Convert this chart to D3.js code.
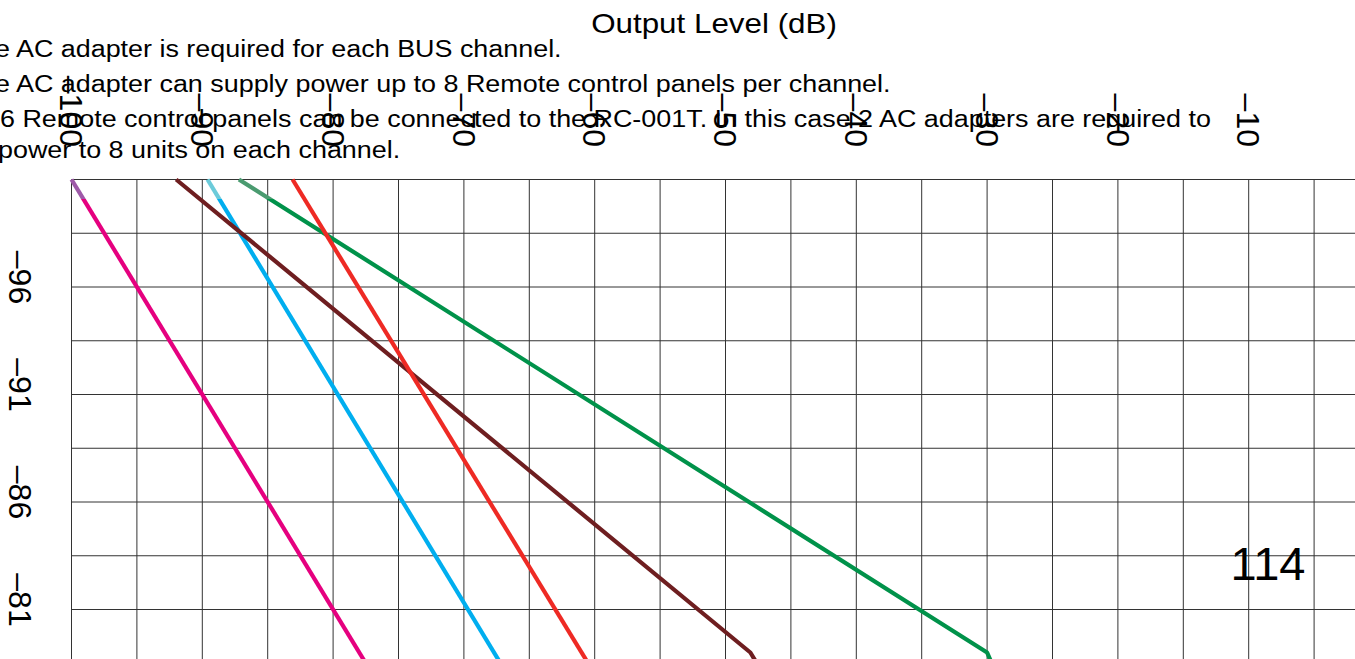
<!DOCTYPE html>
<html>
<head>
<meta charset="utf-8">
<script src="https://cdn.jsdelivr.net/npm/d3@7"></script>
<style>
  html, body { margin: 0; padding: 0; background: #ffffff; overflow: hidden; }
  svg { display: block; }
  text { font-family: "Liberation Sans", Arial, Helvetica, sans-serif; fill: #000; }
</style>
</head>
<body>
<svg id="chart" width="1355" height="659"></svg>
<script>
// ---------------- data ----------------
const xTickValues = [-100, -90, -80, -70, -60, -50, -40, -30, -20, -10];
const xTickLabels = ["–100", "–90", "–80", "–70", "–60", "–50", "–40", "–30", "–20", "–10"];
const yTickValues = [-96, -91, -86, -81];
const yTickLabels = ["–96", "–91", "–86", "–81"];

const seriesNames = ["green", "lightblue", "brown", "red", "pink"];
const greenValues = [[-87.2, -100], [-30.0, -78.0], [-29.5, -77.3]];
const lightBlueValues = [[-89.6, -100], [-67.2, -77.5]];
const brownValues = [[-92.0, -100], [-48.1, -78.0], [-47.4, -77.3]];
const redValues = [[-83.1, -100], [-60.5, -77.5]];
const pinkValues = [[-100, -100], [-77.5, -77.5]];

const titleText = "Output Level (dB)";
const noteLines = [
  "e AC adapter is required for each BUS channel.",
  "e AC adapter can supply power up to 8 Remote control panels per channel.",
  "6 Remote control panels can be connected to the RC-001T. In this case 2 AC adapters are required to",
  "power to 8 units on each channel."
];
const pageNumber = "114";

// ---------------- styles / layout ----------------
const W = 1355, H = 659;
const svg = d3.select("#chart");

const x = d3.scaleLinear().domain([-100, 0]).range([71.5, 1379.5]);
const y = d3.scaleLinear().domain([-100, -75]).range([179.5, 717]);

const series = [
  { name: "green",     values: greenValues,     color: "#00924a", topColor: "#4a9b70" },
  { name: "lightblue", values: lightBlueValues, color: "#00aeef", topColor: "#6ccbda" },
  { name: "brown",     values: brownValues,     color: "#6e1e20", topColor: null },
  { name: "red",       values: redValues,       color: "#ee2a24", topColor: null },
  { name: "pink",      values: pinkValues,      color: "#e5007f", topColor: "#9e5aa8" }
];

const splitY = 199;
const defs = svg.append("defs");
defs.append("clipPath").attr("id", "clipTop")
  .append("rect").attr("x", 0).attr("y", 0).attr("width", W).attr("height", splitY);
defs.append("clipPath").attr("id", "clipBottom")
  .append("rect").attr("x", 0).attr("y", splitY).attr("width", W).attr("height", H);

// ---------------- grid ----------------
const gridColor = "#333";
const xGridValues = d3.range(-100, 0, 5);
const yGridValues = d3.range(-100, -76, 2.5);

const grid = svg.append("g").attr("class", "grid");
grid.selectAll("line.v").data(xGridValues).join("line")
  .attr("class", "v")
  .attr("x1", d => x(d)).attr("x2", d => x(d))
  .attr("y1", y(-100)).attr("y2", H + 10)
  .attr("stroke", gridColor).attr("stroke-width", 1);
grid.selectAll("line.h").data(yGridValues).join("line")
  .attr("class", "h")
  .attr("x1", x(-100)).attr("x2", W + 10)
  .attr("y1", d => y(d)).attr("y2", d => y(d))
  .attr("stroke", gridColor).attr("stroke-width", 1);

// ---------------- lines ----------------
const lineGen = d3.line().x(d => x(d[0])).y(d => y(d[1]));
const lines = svg.append("g").attr("class", "lines");
series.forEach(s => {
  lines.append("path")
    .datum(s.values)
    .attr("d", lineGen)
    .attr("fill", "none")
    .attr("stroke", s.color)
    .attr("stroke-width", 4.2)
    .attr("stroke-linejoin", "round")
    .attr("clip-path", s.topColor ? "url(#clipBottom)" : null);
  if (s.topColor) {
    lines.append("path")
      .datum(s.values)
      .attr("d", lineGen)
      .attr("fill", "none")
      .attr("stroke", s.topColor)
      .attr("stroke-width", 4.2)
      .attr("stroke-linejoin", "round")
      .attr("clip-path", "url(#clipTop)");
  }
});

// ---------------- texts ----------------
svg.append("text")
  .attr("transform", "translate(714,33) scale(1.12,1)")
  .attr("text-anchor", "middle")
  .style("font-size", "28px")
  .text(titleText);

const noteX = [-5, -5, 0, -2];
const noteY = [57, 92, 127, 158];
svg.append("g").selectAll("text").data(noteLines).join("text")
  .attr("transform", (d, i) => `translate(${noteX[i]},${noteY[i]}) scale(1.17,1)`)
  .style("font-size", "23px")
  .text(d => d);

// x tick labels (rotated)
svg.append("g").selectAll("text").data(xTickValues).join("text")
  .attr("transform", d => `translate(${x(d)},147) rotate(90)`)
  .attr("text-anchor", "end")
  .attr("dy", "0.35em")
  .style("font-size", "32px")
  .text((d, i) => xTickLabels[i]);

// y tick labels (rotated)
svg.append("g").selectAll("text").data(yTickValues).join("text")
  .attr("transform", d => `translate(20,${y(d) + 12}) rotate(90)`)
  .attr("text-anchor", "middle")
  .attr("dy", "0.35em")
  .style("font-size", "32px")
  .text((d, i) => yTickLabels[i]);

svg.append("text")
  .attr("x", 1268).attr("y", 580)
  .attr("text-anchor", "middle")
  .style("font-size", "47px")
  .text(pageNumber);
</script>
</body>
</html>
